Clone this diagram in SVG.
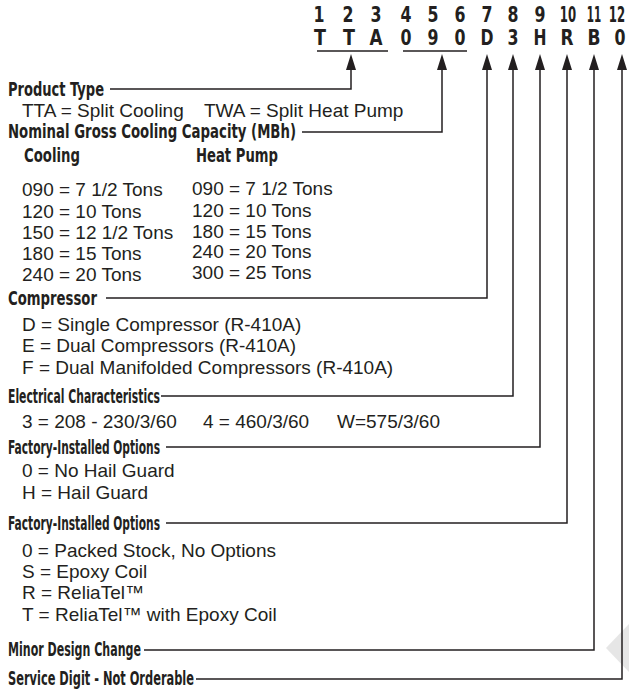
<svg xmlns="http://www.w3.org/2000/svg" width="629" height="689" viewBox="0 0 629 689">
<style>
.h{font-family:"Liberation Sans Narrow","DejaVu Sans Condensed","Liberation Sans",sans-serif;font-weight:bold;font-size:21px;fill:#231f20;text-anchor:middle}
.b{font-family:"Liberation Sans Narrow","DejaVu Sans Condensed","Liberation Sans",sans-serif;font-weight:bold;font-size:20px;fill:#231f20}
.r{font-family:"Liberation Sans",Arial,sans-serif;font-size:19px;fill:#231f20}
.ln{fill:none;stroke:#231f20;stroke-width:1.5}
</style>
<defs>
<marker id="ah" viewBox="0 0 16 10" refX="0" refY="5" markerWidth="16" markerHeight="10" markerUnits="userSpaceOnUse" orient="auto">
<path d="M0,0 L16,5 L0,10 z" fill="#231f20"/>
</marker>
</defs>
<polygon points="629,624 606,648 629,672" fill="#e6e6e6"/>
<g id="header">
<text class="h" x="319" y="22" textLength="11" lengthAdjust="spacingAndGlyphs">1</text>
<text class="h" x="348" y="22" textLength="11" lengthAdjust="spacingAndGlyphs">2</text>
<text class="h" x="376" y="22" textLength="11" lengthAdjust="spacingAndGlyphs">3</text>
<text class="h" x="406" y="22" textLength="11" lengthAdjust="spacingAndGlyphs">4</text>
<text class="h" x="433" y="22" textLength="11" lengthAdjust="spacingAndGlyphs">5</text>
<text class="h" x="460" y="22" textLength="11" lengthAdjust="spacingAndGlyphs">6</text>
<text class="h" x="487" y="22" textLength="11" lengthAdjust="spacingAndGlyphs">7</text>
<text class="h" x="513" y="22" textLength="11" lengthAdjust="spacingAndGlyphs">8</text>
<text class="h" x="540" y="22" textLength="11" lengthAdjust="spacingAndGlyphs">9</text>
<text class="h" transform="translate(568,22) scale(0.62,1)" x="0" y="0">10</text>
<text class="h" transform="translate(594,22) scale(0.55,1)" x="0" y="0">11</text>
<text class="h" transform="translate(617,22) scale(0.62,1)" x="0" y="0">12</text>
<text class="h" x="320" y="45" textLength="12" lengthAdjust="spacingAndGlyphs">T</text>
<text class="h" x="349" y="45" textLength="12" lengthAdjust="spacingAndGlyphs">T</text>
<text class="h" x="376" y="45" textLength="13" lengthAdjust="spacingAndGlyphs">A</text>
<text class="h" x="406" y="45" textLength="11" lengthAdjust="spacingAndGlyphs">0</text>
<text class="h" x="433" y="45" textLength="11" lengthAdjust="spacingAndGlyphs">9</text>
<text class="h" x="460" y="45" textLength="11" lengthAdjust="spacingAndGlyphs">0</text>
<text class="h" x="487" y="45" textLength="13" lengthAdjust="spacingAndGlyphs">D</text>
<text class="h" x="513" y="45" textLength="11" lengthAdjust="spacingAndGlyphs">3</text>
<text class="h" x="540" y="45" textLength="13" lengthAdjust="spacingAndGlyphs">H</text>
<text class="h" x="567" y="45" textLength="13" lengthAdjust="spacingAndGlyphs">R</text>
<text class="h" x="594" y="45" textLength="13" lengthAdjust="spacingAndGlyphs">B</text>
<text class="h" x="620" y="45" textLength="11" lengthAdjust="spacingAndGlyphs">0</text>
<line class="ln" x1="317" y1="51" x2="388" y2="51"/>
<line class="ln" x1="403" y1="51" x2="467" y2="51"/>
</g>
<g id="connectors">
<path class="ln" d="M110,89 H351 V70" marker-end="url(#ah)"/>
<path class="ln" d="M302,132 H442 V70" marker-end="url(#ah)"/>
<path class="ln" d="M106,298 H487 V70" marker-end="url(#ah)"/>
<path class="ln" d="M161,396 H513 V70" marker-end="url(#ah)"/>
<path class="ln" d="M166,447 H540 V70" marker-end="url(#ah)"/>
<path class="ln" d="M166,523 H567 V70" marker-end="url(#ah)"/>
<path class="ln" d="M144,650 H594 V70" marker-end="url(#ah)"/>
<path class="ln" d="M196,679 H622 V70" marker-end="url(#ah)"/>
</g>
<g id="product-type">
<text class="b" x="8" y="96" textLength="96" lengthAdjust="spacingAndGlyphs">Product Type</text>
<text class="r" x="22" y="117">TTA = Split Cooling</text>
<text class="r" x="204" y="117">TWA = Split Heat Pump</text>
</g>
<g id="capacity">
<text class="b" x="8" y="138" textLength="288" lengthAdjust="spacingAndGlyphs">Nominal Gross Cooling Capacity (MBh)</text>
<text class="b" x="24" y="162" textLength="56" lengthAdjust="spacingAndGlyphs">Cooling</text>
<text class="b" x="196" y="162" textLength="82" lengthAdjust="spacingAndGlyphs">Heat Pump</text>
<text class="r" x="22" y="196">090 = 7 1/2 Tons</text>
<text class="r" x="22" y="218">120 = 10 Tons</text>
<text class="r" x="22" y="239">150 = 12 1/2 Tons</text>
<text class="r" x="22" y="260">180 = 15 Tons</text>
<text class="r" x="22" y="281">240 = 20 Tons</text>
<text class="r" x="192" y="195">090 = 7 1/2 Tons</text>
<text class="r" x="192" y="217">120 = 10 Tons</text>
<text class="r" x="192" y="238">180 = 15 Tons</text>
<text class="r" x="192" y="258">240 = 20 Tons</text>
<text class="r" x="192" y="279">300 = 25 Tons</text>
</g>
<g id="compressor">
<text class="b" x="8" y="305" textLength="89" lengthAdjust="spacingAndGlyphs">Compressor</text>
<text class="r" x="22" y="331">D = Single Compressor (R-410A)</text>
<text class="r" x="22" y="352">E = Dual Compressors (R-410A)</text>
<text class="r" x="22" y="374">F = Dual Manifolded Compressors (R-410A)</text>
</g>
<g id="electrical">
<text class="b" x="8" y="403" textLength="152" lengthAdjust="spacingAndGlyphs">Electrical Characteristics</text>
<text class="r" x="22" y="428">3 = 208 - 230/3/60</text>
<text class="r" x="203" y="428">4 = 460/3/60</text>
<text class="r" x="337" y="428">W=575/3/60</text>
</g>
<g id="options-hail">
<text class="b" x="8" y="454" textLength="152" lengthAdjust="spacingAndGlyphs">Factory-Installed Options</text>
<text class="r" x="22" y="477">0 = No Hail Guard</text>
<text class="r" x="22" y="499">H = Hail Guard</text>
</g>
<g id="options-controls">
<text class="b" x="8" y="530" textLength="152" lengthAdjust="spacingAndGlyphs">Factory-Installed Options</text>
<text class="r" x="22" y="557">0 = Packed Stock, No Options</text>
<text class="r" x="22" y="578">S = Epoxy Coil</text>
<text class="r" x="22" y="599">R = ReliaTel™</text>
<text class="r" x="22" y="621">T = ReliaTel™ with Epoxy Coil</text>
</g>
<g id="minor-design">
<text class="b" x="8" y="656" textLength="133" lengthAdjust="spacingAndGlyphs">Minor Design Change</text>
</g>
<g id="service-digit">
<text class="b" x="8" y="685" textLength="186" lengthAdjust="spacingAndGlyphs">Service Digit - Not Orderable</text>
</g>
</svg>
